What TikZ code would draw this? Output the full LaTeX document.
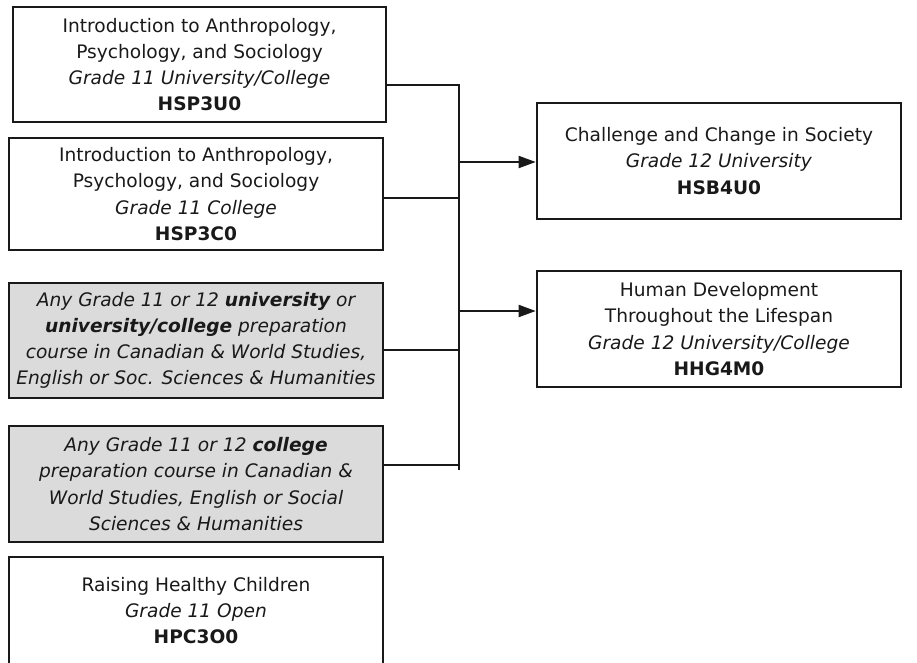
\documentclass[tikz,border=0pt]{standalone}
\usepackage{fontspec}
\setmainfont{DejaVu Sans}
\usetikzlibrary{arrows.meta}
\begin{document}
\begin{tikzpicture}[x=1pt,y=-1pt,
  box/.style={draw=black!90,line width=2.6pt,inner sep=0pt,align=center,
    font=\fontsize{18.6}{26.2}\selectfont,text=black!90},
  graybox/.style={box,fill=black!14},
  conn/.style={draw=black!90,line width=1.9pt},
  arr/.style={conn,-{Triangle[length=17pt,width=12pt]}}]
\useasboundingbox (0,0) rectangle (917,662);
\node[box,minimum width=373pt,minimum height=115pt] (b1) at (199.5,64.5)
  {Introduction to Anthropology,\\Psychology, and Sociology\\\textit{Grade 11 University/College}\\\textbf{HSP3U0}};
\node[box,minimum width=374pt,minimum height=112pt] (b2) at (196,194)
  {Introduction to Anthropology,\\Psychology, and Sociology\\\textit{Grade 11 College}\\\textbf{HSP3C0}};
\node[graybox,minimum width=374pt,minimum height=115pt] (b3) at (196,340.5)
  {\itshape Any Grade 11 or 12 \textbf{university} or\\\itshape\textbf{university/college} preparation\\\itshape course in Canadian \& World Studies,\\\itshape English or Soc. Sciences \& Humanities};
\node[graybox,minimum width=374pt,minimum height=116pt] (b4) at (196,484)
  {\itshape Any Grade 11 or 12 \textbf{college}\\\itshape preparation course in Canadian \&\\\itshape World Studies, English or Social\\\itshape Sciences \& Humanities};
\node[box,minimum width=374pt,minimum height=107pt] (b5) at (196,610.5)
  {Raising Healthy Children\\\textit{Grade 11 Open}\\\textbf{HPC3O0}};
\node[box,minimum width=364pt,minimum height=116pt] (t1) at (719,161)
  {Challenge and Change in Society\\\textit{Grade 12 University}\\\textbf{HSB4U0}};
\node[box,minimum width=364pt,minimum height=116pt] (t2) at (719,329)
  {Human Development\\Throughout the Lifespan\\\textit{Grade 12 University/College}\\\textbf{HHG4M0}};
\coordinate (j1) at (459,85);
\coordinate (j2) at (459,198);
\coordinate (j3) at (459,350);
\coordinate (j4) at (459,465);
\coordinate (jb) at (459,470);
\coordinate (a1) at (459,162);
\coordinate (a2) at (459,311);
\draw[conn] (b1.east |- j1) -- (j1);
\draw[conn] (b2.east |- j2) -- (j2);
\draw[conn] (b3.east |- j3) -- (j3);
\draw[conn] (b4.east |- j4) -- (j4);
\draw[conn] ([yshift=0.95pt]j1) -- (jb);
\draw[arr] (a1) -- (t1.west |- a1);
\draw[arr] (a2) -- (t2.west |- a2);
\end{tikzpicture}
\end{document}
